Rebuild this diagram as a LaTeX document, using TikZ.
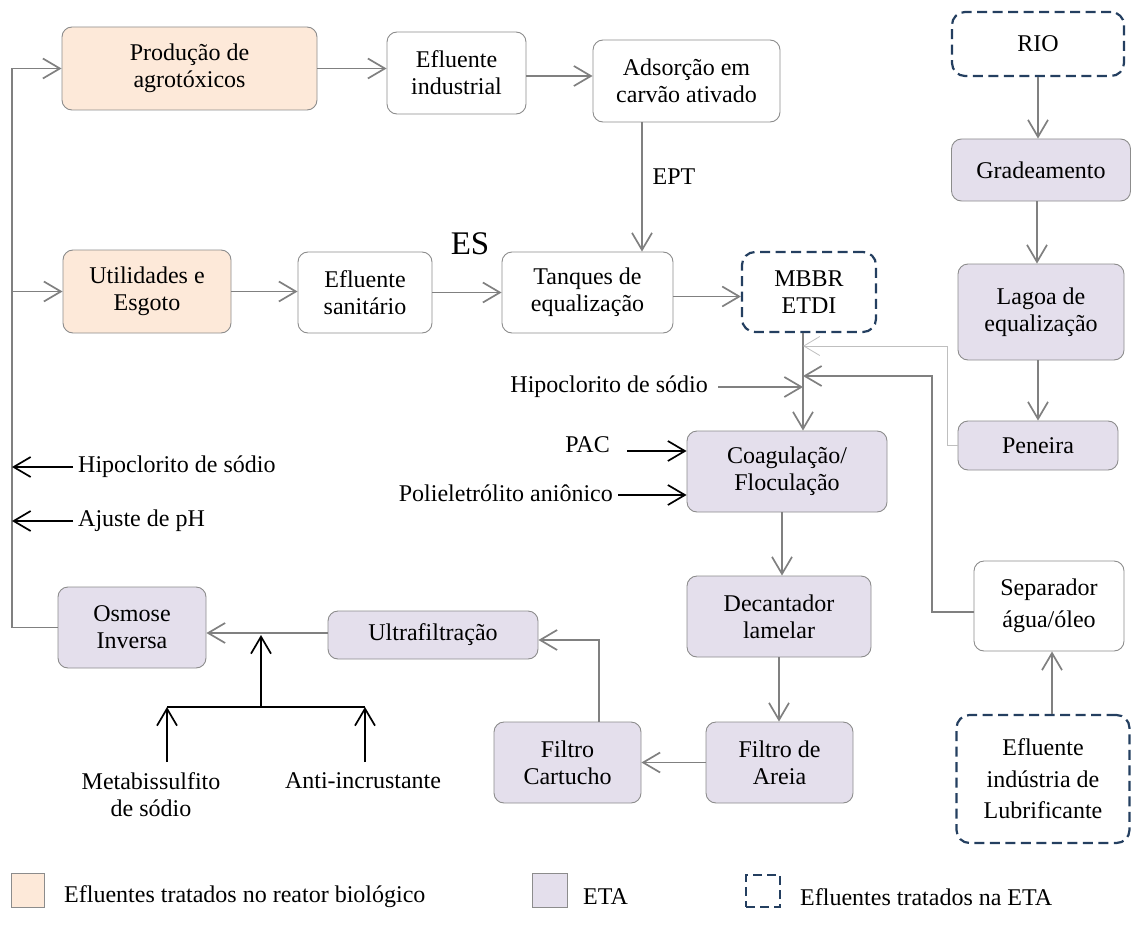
\documentclass[tikz,border=0pt]{standalone}
\usepackage{fontspec}
\setmainfont{Liberation Serif}
\usetikzlibrary{arrows.meta}
\definecolor{peach}{HTML}{FDE9D9}
\definecolor{lav}{HTML}{E4DFEC}
\definecolor{edgegray}{HTML}{8C8C8C}
\definecolor{flowgray}{HTML}{808080}
\definecolor{faintgray}{HTML}{BFBFBF}
\definecolor{navy}{HTML}{243F60}
\begin{document}
\begin{tikzpicture}[x=1pt,y=-1pt,
  every node/.style={font=\fontsize{24}{27}\selectfont},
  box/.style={draw=edgegray, line width=0.9pt, rounded corners=10pt, align=center, inner sep=0pt},
  bio/.style={box, fill=peach},
  eta/.style={box, fill=lav},
  plain/.style={box, fill=white},
  ext/.style={draw=navy, line width=2.2pt, dash pattern=on 10pt off 5.5pt, rounded corners=13pt, align=center, inner sep=0pt},
  dims/.style 2 args={minimum width=#1pt, minimum height=#2pt},
  lbl/.style={inner sep=0pt, align=center},
  flowarr/.style={draw=flowgray, line width=1.7pt, -{Straight Barb[length=17pt,width=20pt]}},
  faintarr/.style={draw=faintgray, line width=0.8pt, -{Straight Barb[length=16pt,width=19pt]}},
  dosearr/.style={draw=black, line width=1.7pt, -{Straight Barb[length=17pt,width=20pt]}},
  doseline/.style={draw=black, line width=1.7pt},
]
\useasboundingbox (0,0) rectangle (1132,947);

% process boxes
\node[bio, dims={255}{83}] (prod) at (189.5,68.5) {Produção de\\agrotóxicos};
\node[plain, dims={139}{82}] (efind) at (456.5,73) {Efluente\\industrial};
\node[plain, dims={187}{82}] (adsor) at (686.5,81) {Adsorção em\\carvão ativado};
\node[bio, dims={168}{83}] (util) at (147,291.5) {Utilidades e\\Esgoto};
\node[plain, dims={134}{81}] (efsan) at (365,292.5) {Efluente\\sanitário};
\node[plain, dims={171}{81}] (tanq) at (587.5,292.5) {Tanques de\\equalização};
\node[ext, dims={134}{80}] (mbbr) at (809,292) {MBBR\\ETDI};
\node[ext, dims={172}{64}] (rio) at (1038,44) {RIO};
\node[eta, dims={179}{62}] (grad) at (1041,170) {Gradeamento};
\node[eta, dims={166}{96}] (lagoa) at (1041,312) {Lagoa de\\equalização};
\node[eta, dims={160}{49}] (pen) at (1038,445.5) {Peneira};
\node[eta, dims={200}{81}] (coag) at (787,471.5) {Coagulação/\\Floculação};
\node[eta, dims={184}{81}] (decan) at (779,616.5) {Decantador\\lamelar};
\node[eta, dims={147}{81}] (areia) at (779.5,762.5) {Filtro de\\Areia};
\node[eta, dims={147}{81}] (cart) at (567.5,762.5) {Filtro\\Cartucho};
\node[eta, dims={210}{48}] (ultra) at (433,635) {Ultrafiltração};
\node[eta, dims={148}{81}] (osm) at (132,627.5) {Osmose\\Inversa};
\node[plain, dims={150}{90}, font=\fontsize{24}{31.5}\selectfont] (sep) at (1049,606) {Separador\\água/óleo};
\node[ext, dims={173}{128}, font=\fontsize{24}{31.5}\selectfont] (lub) at (1043,779) {Efluente\\indústria de\\Lubrificante};

% stream labels
\node[lbl] (ept) at (674,177) {EPT};
\node[lbl, font=\fontsize{33}{36}\selectfont] (es) at (470,244) {ES};

% chemical dosing labels
\node[lbl, anchor=east] (hipo2) at (708,387) {Hipoclorito de sódio};
\node[lbl, anchor=west] (hipo1) at (78,467) {Hipoclorito de sódio};
\node[lbl, anchor=west] (ph) at (78,521) {Ajuste de pH};
\node[lbl, anchor=east] (pac) at (610,445) {PAC};
\node[lbl, anchor=east] (poli) at (613,493) {Polieletrólito aniônico};
\node[lbl] (meta) at (151,795) {Metabissulfito\\de sódio};
\node[lbl] (anti) at (363,781) {Anti-incrustante};

% routing points
\coordinate (lx) at (12,0);
\coordinate (jx) at (803,0);
\coordinate (pk) at (947,346);
\coordinate (lt) at (803,346);
\coordinate (sk) at (932,376);
\coordinate (dt) at (803,376);
\coordinate (pacin) at (627,451);
\coordinate (poliin) at (618,495);
\coordinate (bj) at (261,707);
\coordinate (bl) at (167,707);
\coordinate (br) at (365,707);
\coordinate (ml) at (167,762);
\coordinate (ar) at (365,762);

% main flow
\draw[flowarr] (osm.west) -| (lx |- prod.west) -- (prod.west);
\draw[flowarr] (lx |- util.west) -- (util.west);
\draw[flowarr] (prod.east) -- (prod.east -| efind.west);
\draw[flowarr] ([yshift=-3]efind.east) -- ([yshift=-3]efind.east -| adsor.west);
\draw[flowarr] ([xshift=-44.5]adsor.south) -- ([xshift=54.5]tanq.north);
\draw[flowarr] (util.east) -- (util.east -| efsan.west);
\draw[flowarr] (efsan.east) -- (efsan.east -| tanq.west);
\draw[flowarr] ([yshift=-4]tanq.east) -- ([yshift=-4]tanq.east -| mbbr.west);
\draw[flowarr] (jx |- mbbr.south) -- (jx |- coag.north);
\draw[faintarr] (pen.west) -| (pk) -- (lt);
\draw[flowarr] ([yshift=-6]sep.west) -| (sk) -- (dt);
\draw[flowarr] ([xshift=-5]coag.south) -- ([xshift=3]decan.north);
\draw[flowarr] (decan.south) -- (decan.south |- areia.north);
\draw[flowarr] (areia.west) -- (areia.west -| cart.east);
\draw[flowarr] ([xshift=31.5]cart.north) |- ([yshift=-5]ultra.east);
\draw[flowarr] ([yshift=2]ultra.west) -- ([yshift=2]ultra.west -| osm.east);
\draw[flowarr] (rio.south) -- (rio.south |- grad.north);
\draw[flowarr] ([xshift=-4]grad.south) -- ([xshift=-4]grad.south |- lagoa.north);
\draw[flowarr] ([xshift=-3]lagoa.south) -- ([xshift=-3]lagoa.south |- pen.north);
\draw[flowarr] ([xshift=9]lub.north) -- ([xshift=9]lub.north |- sep.south);

% dosing arrows
\draw[flowarr] ([xshift=10]hipo2.east) -- (hipo2.east -| jx);
\draw[dosearr] ([xshift=-5]hipo1.west) -- (hipo1.west -| lx);
\draw[dosearr] ([xshift=-5]ph.west) -- (ph.west -| lx);
\draw[dosearr] (pacin) -- (pacin -| coag.west);
\draw[dosearr] (poliin) -- (poliin -| coag.west);
\draw[doseline] (bl) -- (br);
\draw[dosearr] (bj) -- (bj |- ultra.west);
\draw[dosearr] (ml) -- (bl);
\draw[dosearr] (ar) -- (br);

% legend
\node[bio, rounded corners=0pt, dims={33}{34}] (kbio) at (27.5,890) {};
\node[lbl, anchor=west] (tbio) at (64,897) {Efluentes tratados no reator biológico};
\node[eta, rounded corners=0pt, dims={35}{34}] (keta) at (549.5,890) {};
\node[lbl, anchor=west] (teta) at (583,897) {ETA};
\node[ext, rounded corners=0pt, line width=2pt, dash pattern=on 9pt off 5pt, dims={34}{32}] (kext) at (763,891) {};
\node[lbl, anchor=west] (lext) at (800,897) {Efluentes tratados na ETA};
\end{tikzpicture}
\end{document}
